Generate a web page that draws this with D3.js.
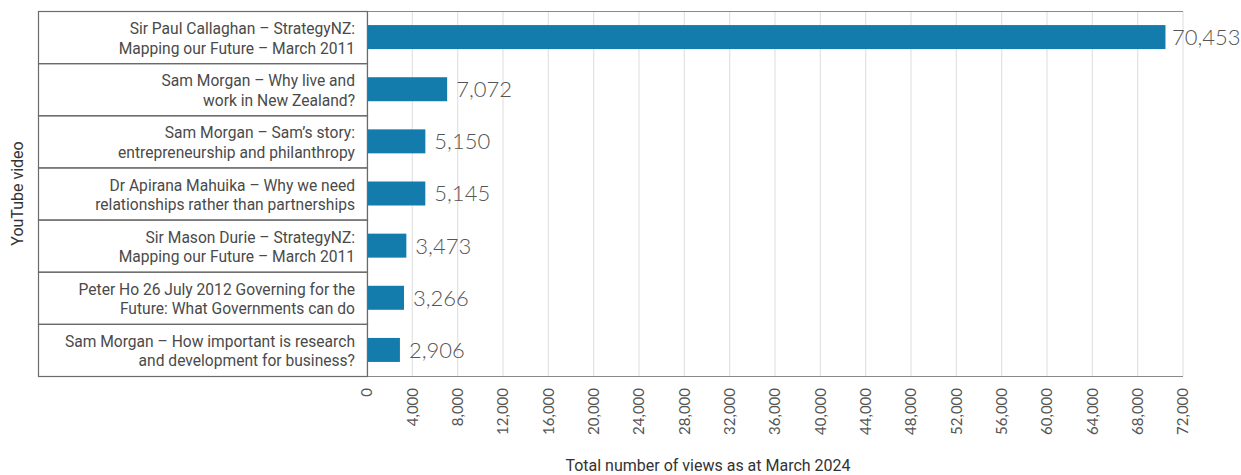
<!DOCTYPE html>
<html>
<head>
<meta charset="utf-8">
<script src="https://cdn.jsdelivr.net/npm/d3@7"></script>
<style>
  body { margin: 0; background: #fff; }
  svg { display: block; }
</style>
</head>
<body>
<svg id="chart" width="1241" height="475"></svg>
<script>
// video titles, split over two lines like the original table
var videos = [
    ["Sir Paul Callaghan – StrategyNZ:", "Mapping our Future – March 2011"],
    ["Sam Morgan – Why live and", "work in New Zealand?"],
    ["Sam Morgan – Sam’s story:", "entrepreneurship and philanthropy"],
    ["Dr Apirana Mahuika – Why we need", "relationships rather than partnerships"],
    ["Sir Mason Durie – StrategyNZ:", "Mapping our Future – March 2011"],
    ["Peter Ho 26 July 2012 Governing for the", "Future: What Governments can do"],
    ["Sam Morgan – How important is research", "and development for business?"]
];
var views = [70453, 7072, 5150, 5145, 3473, 3266, 2906];
var xTicks = [0, 4000, 8000, 12000, 16000, 20000, 24000, 28000, 32000, 36000,
    40000, 44000, 48000, 52000, 56000, 60000, 64000, 68000, 72000];

var tableLeft = 38, plotLeft = 367, plotRight = 1183, plotTop = 11, plotBottom = 376;
var barH = 24;
var barColor = "#137cad";

var svg = d3.select("#chart");

var x = d3.scaleLinear().domain([0, 72000]).range([plotLeft, plotRight]);
var y = d3.scaleBand().domain(d3.range(videos.length)).range([plotTop, plotBottom]);

// gridlines
svg.append("g")
    .selectAll("line")
    .data(xTicks)
    .enter()
    .append("line")
    .attr("x1", d => x(d)).attr("x2", d => x(d))
    .attr("y1", plotTop).attr("y2", plotBottom)
    .attr("stroke", "#e2e2e2")
    .attr("stroke-width", 1.2);

// plot top/bottom border
svg.append("line").attr("x1", plotLeft).attr("x2", plotRight)
    .attr("y1", plotTop + 0.5).attr("y2", plotTop + 0.5)
    .attr("stroke", "#8a8a8a").attr("stroke-width", 1.2);
svg.append("line").attr("x1", plotLeft).attr("x2", plotRight)
    .attr("y1", plotBottom + 0.5).attr("y2", plotBottom + 0.5)
    .attr("stroke", "#8a8a8a").attr("stroke-width", 1.2);

// label table
var table = svg.append("g");
table.selectAll("rect")
    .data(videos)
    .enter()
    .append("rect")
    .attr("x", tableLeft + 0.5)
    .attr("y", (d, i) => y(i) + 0.5)
    .attr("width", plotLeft - tableLeft)
    .attr("height", y.bandwidth())
    .attr("fill", "none")
    .attr("stroke", "#6b6b6b")
    .attr("stroke-width", 1.2);

var labels = table.selectAll("text")
    .data(videos)
    .enter()
    .append("text")
    .attr("text-anchor", "end")
    .attr("font-family", "Roboto, sans-serif")
    .attr("font-size", "15.6px")
    .attr("fill", "#4a4a4a");

labels.each(function(d, i) {
    var t = d3.select(this);
    d.forEach(function(line, j) {
        t.append("tspan")
            .attr("x", plotLeft - 12)
            .attr("y", y(i) + y.bandwidth() / 2 - 3 + j * 19.5)
            .text(line);
    });
});

// bars
svg.append("g")
    .selectAll("rect")
    .data(views)
    .enter()
    .append("rect")
    .attr("x", x(0) + 1)
    .attr("y", (d, i) => y(i) + y.bandwidth() / 2 - barH / 2)
    .attr("width", d => x(d) - x(0) - 1)
    .attr("height", barH)
    .attr("fill", barColor);

// value labels
var fmt = d3.format(",");
svg.append("g")
    .selectAll("text")
    .data(views)
    .enter()
    .append("text")
    .attr("x", d => Math.min(x(d) + 9, 1238 - 66))
    .attr("y", (d, i) => y(i) + y.bandwidth() / 2)
    .attr("dy", "0.36em")
    .attr("font-family", "Lato, sans-serif")
    .attr("font-weight", 300)
    .attr("font-size", "22px")
    .attr("fill", "#555")
    .text(d => fmt(d));

// x tick labels
svg.append("g")
    .selectAll("text")
    .data(xTicks)
    .enter()
    .append("text")
    .attr("transform", d => "translate(" + x(d) + "," + 388 + ") rotate(-90)")
    .attr("text-anchor", "end")
    .attr("dy", "0.35em")
    .attr("font-family", "Lato, sans-serif")
    .attr("font-size", "15px")
    .attr("fill", "#555")
    .text(d => fmt(d));

// axis titles
svg.append("text")
    .attr("x", 708)
    .attr("y", 471)
    .attr("text-anchor", "middle")
    .attr("font-family", "Roboto, sans-serif")
    .attr("font-size", "16px")
    .attr("fill", "#333")
    .text("Total number of views as at March 2024");

svg.append("text")
    .attr("transform", "translate(23," + (plotTop + plotBottom) / 2 + ") rotate(-90)")
    .attr("text-anchor", "middle")
    .attr("font-family", "Roboto, sans-serif")
    .attr("font-size", "16px")
    .attr("fill", "#333")
    .text("YouTube video");
</script>
</body>
</html>
